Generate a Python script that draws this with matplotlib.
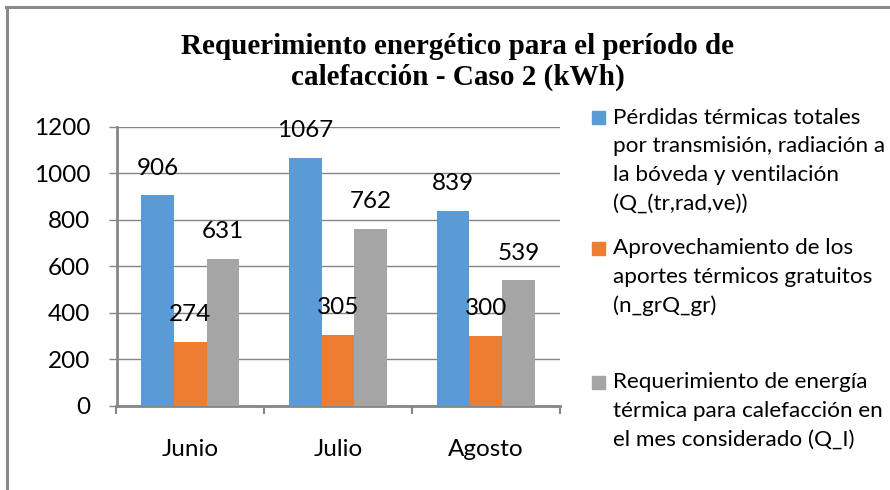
import matplotlib
matplotlib.use("Agg")
import matplotlib.pyplot as plt
from matplotlib.patches import Rectangle
from matplotlib.lines import Line2D
import numpy as np

categories = ["Junio", "Julio", "Agosto"]
series_names = [
    "Pérdidas térmicas totales\npor transmisión, radiación a\nla bóveda y ventilación\n(Q_(tr,rad,ve))",
    "Aprovechamiento de los\naportes térmicos gratuitos\n(n_grQ_gr)",
    "Requerimiento de energía\ntérmica para calefacción en\nel mes considerado (Q_I)",
]
perdidas = [906, 1067, 839]
aprovechamiento = [274, 305, 300]
requerimiento = [631, 762, 539]
series_values = [perdidas, aprovechamiento, requerimiento]
colors = ["#5B9BD5", "#ED7D31", "#A5A5A5"]
yticks = [0, 200, 400, 600, 800, 1000, 1200]
title = "Requerimiento energético para el período de\ncalefacción - Caso 2 (kWh)"

W, H = 890, 490
fig = plt.figure(figsize=(W / 100, H / 100), dpi=100)
fig.patch.set_facecolor("white")

FONT = ["Lato", "DejaVu Sans"]
FS = 17.5
LFS = 16.2
AXC = "#868686"

# outer frame (top and left only visible)
fig.add_artist(Line2D([6 / W, 1.0], [1 - 7 / H, 1 - 7 / H], color="#8a8a8a", lw=2.2, transform=fig.transFigure))
fig.add_artist(Line2D([7 / W, 7 / W], [0, 1 - 7 / H], color="#8a8a8a", lw=2.2, transform=fig.transFigure))

x0, x1 = 116.5, 559.5
ytop, ybot = 126.7, 405.7
ax = fig.add_axes([x0 / W, 1 - ybot / H, (x1 - x0) / W, (ybot - ytop) / H])

x = np.arange(len(categories))
bw = 0.2215
for i, (vals, c) in enumerate(zip(series_values, colors)):
    xs = x + (i - 1) * bw
    ax.bar(xs, vals, width=bw, color=c, zorder=3)
    for xi, v in zip(xs, vals):
        ax.annotate(str(v), (xi, v), xytext=(0, 27), textcoords="offset pixels",
                    ha="center", va="center", fontsize=FS, family=FONT, color="black", zorder=4)

ax.set_xlim(-0.5, 2.5)
ax.set_ylim(0, 1200)
ax.set_yticks(yticks)
ax.set_yticklabels([str(t) for t in yticks], family=FONT, fontsize=FS)
ax.grid(axis="y", color=AXC, lw=1.0, zorder=0)
ax.set_axisbelow(True)

ax.set_xticks([-0.5, 0.5, 1.5, 2.5])
ax.set_xticklabels([])
ax.set_xticks(x, minor=True)
ax.set_xticklabels(categories, minor=True, family=FONT, fontsize=FS)
ax.tick_params(axis="x", which="major", length=6, width=1.5, color=AXC, direction="out")
ax.tick_params(axis="x", which="minor", length=0, pad=24)
ax.tick_params(axis="y", length=6, width=1.0, color=AXC, direction="out", pad=13)

for s in ["top", "right"]:
    ax.spines[s].set_visible(False)
ax.spines["left"].set_color(AXC)
ax.spines["left"].set_linewidth(2.0)
ax.spines["bottom"].set_color(AXC)
ax.spines["bottom"].set_linewidth(2.0)

# title
fig.text(458 / W, 1 - 62 / H, title, ha="center", va="center", fontsize=21,
         family=["Liberation Serif", "DejaVu Serif"], weight="bold", linespacing=1.22)

# legend
leg_first = [117, 248, 382]
leg_nlines = [4, 3, 3]
LSP = 29.0
for name, c, yc, n in zip(series_names, colors, leg_first, leg_nlines):
    fig.add_artist(Rectangle((592 / W, 1 - (yc + 7) / H), 13 / W, 13 / H, color=c, transform=fig.transFigure))
    ymid = yc + (n - 1) * LSP / 2
    fig.text(613 / W, 1 - ymid / H, name, ha="left", va="center", fontsize=LFS, family=FONT, linespacing=1.54)

fig.savefig("out.png", dpi=100, facecolor="white")
